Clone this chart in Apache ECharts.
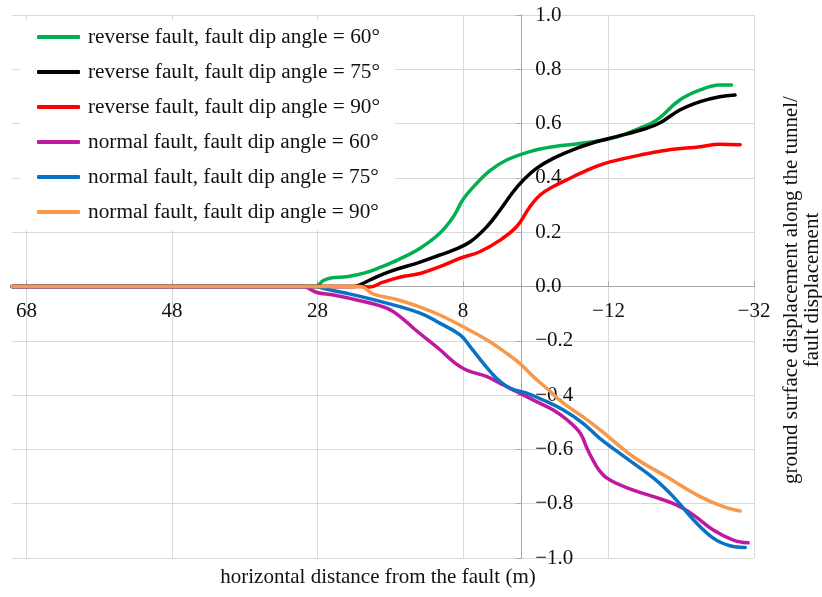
<!DOCTYPE html>
<html>
<head>
<meta charset="utf-8">
<script src="https://cdn.jsdelivr.net/npm/echarts@6/dist/echarts.min.js"></script>
<style>
html,body{margin:0;padding:0;background:#fff;}
#chart{width:822px;height:597px;}
</style>
</head>
<body>
<div id="chart"></div>
<script>
var seriesNames = [
  'reverse fault, fault dip angle = 60°',
  'reverse fault, fault dip angle = 75°',
  'reverse fault, fault dip angle = 90°',
  'normal fault, fault dip angle = 60°',
  'normal fault, fault dip angle = 75°',
  'normal fault, fault dip angle = 90°'
];
var seriesColors = ['#00b050', '#000000', '#ff0000', '#c0189f', '#0a72c4', '#f8984a'];

var reverse60 = [[70,0],[30,0],[28.3,0],[27.2,0.022],[26,0.032],[24,0.036],[21.5,0.05],[19.4,0.07],[16.8,0.1],[13.9,0.141],[11.2,0.196],[9.33,0.257],[7.96,0.322],[6.12,0.38],[4.29,0.427],[2.0,0.466],[-1.2,0.497],[-4.4,0.515],[-7.6,0.525],[-10.8,0.537],[-13.1,0.55],[-16.3,0.583],[-18.6,0.613],[-21.8,0.687],[-24.6,0.724],[-27.3,0.742],[-28.9,0.742]];
var reverse75 = [[70,0],[23,0],[22.2,0.006],[20.8,0.024],[18.1,0.055],[13.9,0.09],[11.2,0.116],[9.33,0.134],[7.0,0.165],[4.7,0.221],[2.9,0.282],[1.1,0.349],[-0.3,0.392],[-2.1,0.435],[-4.4,0.472],[-7.6,0.509],[-10.8,0.537],[-13.1,0.552],[-17.25,0.583],[-19.1,0.603],[-21.8,0.65],[-24.6,0.681],[-27.3,0.699],[-29.4,0.705]];
var reverse90 = [[70,0],[22,0],[20.8,-0.002],[19,0.016],[16.7,0.034],[13.9,0.048],[11.2,0.073],[8.4,0.104],[5.7,0.128],[2.9,0.171],[0.62,0.221],[-1.2,0.294],[-2.6,0.337],[-4.4,0.368],[-7.2,0.405],[-9.0,0.428],[-10.8,0.447],[-12.2,0.459],[-16.3,0.484],[-20,0.502],[-24.6,0.515],[-27.3,0.524],[-30.1,0.522]];
var normal60 = [[70,0],[30,0],[28.1,-0.022],[25.8,-0.031],[21.7,-0.055],[18.5,-0.08],[16.7,-0.11],[14.4,-0.163],[11.2,-0.232],[9.33,-0.277],[7.5,-0.308],[4.7,-0.332],[2.45,-0.363],[0.2,-0.393],[-2.1,-0.424],[-4.4,-0.455],[-6.25,-0.49],[-8.1,-0.54],[-9.2,-0.605],[-10.8,-0.68],[-12.2,-0.713],[-15.4,-0.75],[-18.2,-0.774],[-21.4,-0.805],[-23.7,-0.842],[-26.4,-0.897],[-29.15,-0.934],[-31.2,-0.944]];
var normal75 = [[70,0],[28,0],[27.25,-0.007],[24,-0.025],[19.4,-0.055],[13.9,-0.098],[11.2,-0.135],[8.4,-0.178],[7.0,-0.222],[5.2,-0.283],[3.4,-0.338],[1.5,-0.375],[-0.75,-0.393],[-3.0,-0.418],[-5.8,-0.455],[-8.5,-0.504],[-10.8,-0.559],[-14.5,-0.633],[-18.2,-0.706],[-20.9,-0.774],[-23.7,-0.86],[-26.4,-0.927],[-28.7,-0.955],[-30.8,-0.961]];
var normal90 = [[70,0],[22.2,0],[20.3,-0.028],[17.1,-0.048],[13.9,-0.076],[11.2,-0.105],[8.0,-0.148],[4.7,-0.197],[2.0,-0.246],[0.2,-0.283],[-1.66,-0.332],[-3.5,-0.375],[-5.8,-0.43],[-8.5,-0.48],[-10.8,-0.527],[-15.4,-0.627],[-20,-0.701],[-24.6,-0.774],[-27.8,-0.811],[-30.1,-0.827]];

var allData = [reverse60, reverse75, reverse90, normal60, normal75, normal90];

var xTickMin = -32, xTickMax = 70, xTickStep = 20;
var yTickMin = -1, yTickMax = 1, yTickStep = 0.2;

var xAxisTitle = 'horizontal distance from the fault (m)';
var yAxisTitle = 'ground surface displacement along the tunnel/\nfault displacement';

var FONT = "'Liberation Serif', 'Times New Roman', serif";
var FS = 21;

function minus(s) { return String(s).replace('-', '\u2212'); }

var GRID = {left: 12, right: 68, top: 15, bottom: 39};
var W = 822, H = 597;
var plotW = W - GRID.left - GRID.right;
var plotH = H - GRID.top - GRID.bottom;
// axes cross at the data zero of the other axis (offset from their default edge)
var xAxisOffset = -plotH * (0 - yTickMin) / (yTickMax - yTickMin);
var yAxisOffset = -plotW * (0 - xTickMin) / (xTickMax - xTickMin);

var chart = echarts.init(document.getElementById('chart'), null, {renderer: 'canvas'});

var series = allData.map(function (d, i) {
  return {
    name: seriesNames[i],
    type: 'line',
    data: d,
    symbol: 'none',
    showSymbol: false,
    smooth: 0.4,
    lineStyle: {width: 3.5, color: seriesColors[i], cap: 'round', join: 'round'},
    itemStyle: {color: seriesColors[i]},
    emphasis: {disabled: true},
    animation: false
  };
});

chart.setOption({
  animation: false,
  backgroundColor: '#ffffff',
  grid: {left: GRID.left, right: GRID.right, top: GRID.top, bottom: GRID.bottom, containLabel: false},
  legend: {
    orient: 'vertical',
    left: 20,
    top: 20,
    padding: [5, 15, 6, 17],
    backgroundColor: '#ffffff',
    itemWidth: 43,
    itemHeight: 4,
    itemGap: 11,
    icon: 'roundRect',
    textStyle: {fontFamily: FONT, fontSize: 21.3, color: '#111', lineHeight: 24, padding: [0, 0, 0, 3]},
    data: seriesNames
  },
  xAxis: {
    type: 'value',
    min: xTickMin,
    max: xTickMax,
    interval: xTickStep,
    inverse: true,
    position: 'bottom',
    offset: xAxisOffset,
    axisLine: {show: true, onZero: false, lineStyle: {color: '#a6a6a6', width: 1}},
    axisTick: {show: true, inside: true, length: 5, lineStyle: {color: '#a6a6a6'}},
    axisLabel: {
      show: true, margin: 14, fontFamily: FONT, fontSize: FS, color: '#111',
      showMaxLabel: false,
      formatter: function (v) { return minus(v); }
    },
    splitLine: {show: true, showMaxLine: false, lineStyle: {color: '#d9d9d9', width: 1}}
  },
  yAxis: {
    type: 'value',
    min: yTickMin,
    max: yTickMax,
    interval: yTickStep,
    position: 'right',
    offset: yAxisOffset,
    axisLine: {show: true, onZero: false, lineStyle: {color: '#a6a6a6', width: 1}},
    axisTick: {show: true, inside: true, length: 5, lineStyle: {color: '#a6a6a6'}},
    axisLabel: {
      show: true, margin: 14, fontFamily: FONT, fontSize: FS, color: '#111',
      formatter: function (v) { return minus(v.toFixed(1)); }
    },
    splitLine: {show: true, lineStyle: {color: '#d9d9d9', width: 1}}
  },
  graphic: [
    {
      type: 'text', x: 378, y: 577,
      style: {text: xAxisTitle, fontFamily: FONT, fontSize: FS, fill: '#111', align: 'center', verticalAlign: 'middle'}
    },
    {
      type: 'text', x: 802, y: 290, rotation: Math.PI / 2,
      style: {text: yAxisTitle, fontFamily: FONT, fontSize: FS, lineHeight: 21, fill: '#111', align: 'center', verticalAlign: 'middle'}
    }
  ],
  series: series
});
</script>
</body>
</html>
